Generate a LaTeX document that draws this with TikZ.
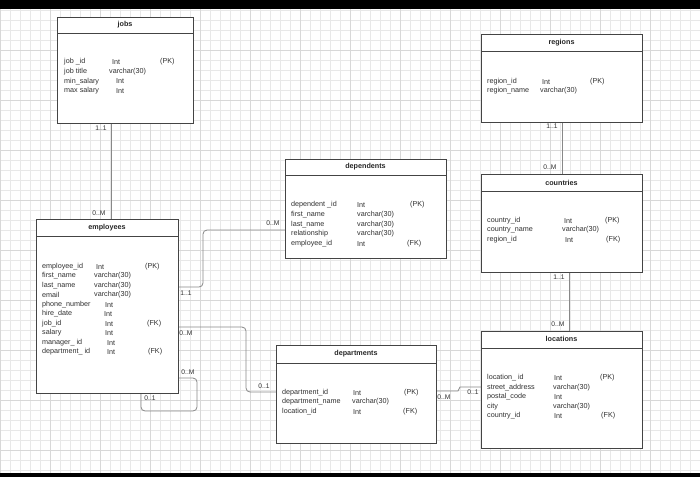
\documentclass[tikz,border=0pt]{standalone}
\usepackage{fontspec}
\setmainfont{Liberation Sans}
\usetikzlibrary{calc}
\definecolor{boxc}{HTML}{444444}
\definecolor{txtc}{HTML}{303030}
\definecolor{linec}{HTML}{888888}
\definecolor{gridc}{HTML}{E8E8E8}
\definecolor{gridd}{HTML}{D8D8D8}
\tikzset{
 tbl/.style={draw=boxc, line width=1.1pt, anchor=north west, inner sep=0pt, fill=white},
 hdr/.style={draw=boxc, line width=1pt},
 ttl/.style={font=\fontsize{7.2}{8}\selectfont\bfseries, text=black!85, inner sep=0pt},
 fld/.style={font=\fontsize{7.2}{8}\selectfont, text=txtc, anchor=west, inner sep=0pt},
 card/.style={font=\fontsize{6.7}{7}\selectfont, text=txtc, inner sep=0pt},
 conn/.style={draw=linec, line width=0.8pt, rounded corners=4pt},
}
\newcommand\fldrow[5]{%
 \node[fld] at (#1,#2) {#3};
 \node[fld] at (#4,#2) {#5};}
\begin{document}
\begin{tikzpicture}[x=1pt,y=-1pt]
\useasboundingbox (0,0) rectangle (700,477);
\fill[white] (0,0) rectangle (700,477);
\foreach \i in {0,10,...,700} \draw[gridc, line width=0.4pt] (\i,9) -- (\i,473);
\foreach \j in {10,20,...,470} \draw[gridc, line width=0.4pt] (0,\j) -- (700,\j);
\foreach \i in {0,50,...,700} \draw[gridd, line width=0.5pt] (\i,9) -- (\i,473);
\foreach \j in {50,100,...,450} \draw[gridd, line width=0.5pt] (0,\j) -- (700,\j);
\fill[black] (0,0) rectangle (700,9);
\fill[black] (0,473) rectangle (700,477);

% ---------- jobs
\node[tbl, minimum width=136pt, minimum height=106pt] (jobs) at (57,17) {};
\draw[hdr] (57,33) -- (193,33);
\node[ttl] (jobsT) at (125,25) {jobs};
\fldrow{64}{62}{job \_id}{112}{Int}
\node[fld] at (160,62) {(PK)};
\fldrow{64}{72}{job title}{109}{varchar(30)}
\fldrow{64}{81.5}{min\_salary}{116}{Int}
\fldrow{64}{91}{max salary}{116}{Int}

% ---------- regions
\node[tbl, minimum width=161pt, minimum height=88pt] (regions) at (481,34) {};
\draw[hdr] (481,51) -- (642,51);
\node[ttl] (regionsT) at (561.5,42.5) {regions};
\fldrow{487}{82}{region\_id}{542}{Int}
\node[fld] at (590,82) {(PK)};
\fldrow{487}{91}{region\_name}{540}{varchar(30)}

% ---------- dependents
\node[tbl, minimum width=161pt, minimum height=99pt] (dependents) at (285,159) {};
\draw[hdr] (285,175) -- (446,175);
\node[ttl] (dependentsT) at (365.5,166.5) {dependents};
\fldrow{291}{205}{dependent \_id}{357}{Int}
\node[fld] at (410,205) {(PK)};
\fldrow{291}{215}{first\_name}{357}{varchar(30)}
\fldrow{291}{225}{last\_name}{357}{varchar(30)}
\fldrow{291}{234}{relationship}{357}{varchar(30)}
\fldrow{291}{244}{employee\_id}{357}{Int}
\node[fld] at (407,244) {(FK)};

% ---------- countries
\node[tbl, minimum width=161pt, minimum height=98pt] (countries) at (481,174) {};
\draw[hdr] (481,191) -- (642,191);
\node[ttl] (countriesT) at (561.5,182.5) {countries};
\fldrow{487}{221}{country\_id}{564}{Int}
\node[fld] at (605,221) {(PK)};
\fldrow{487}{230}{country\_name}{562}{varchar(30)}
\fldrow{487}{240}{region\_id}{565}{Int}
\node[fld] at (606,240) {(FK)};

% ---------- employees
\node[tbl, minimum width=142pt, minimum height=174pt] (employees) at (36,219) {};
\draw[hdr] (36,236) -- (178,236);
\node[ttl] (employeesT) at (107,227.5) {employees};
\fldrow{42}{267}{employee\_id}{96}{Int}
\node[fld] at (145,267) {(PK)};
\fldrow{42}{276}{first\_name}{94}{varchar(30)}
\fldrow{42}{285.5}{last\_name}{94}{varchar(30)}
\fldrow{42}{295}{email}{94}{varchar(30)}
\fldrow{42}{305}{phone\_number}{105}{Int}
\fldrow{42}{314}{hire\_date}{104}{Int}
\fldrow{42}{324}{job\_id}{105}{Int}
\node[fld] at (147,324) {(FK)};
\fldrow{42}{333}{salary}{105}{Int}
\fldrow{42}{343}{manager\_ id}{107}{Int}
\fldrow{42}{352}{department\_ id}{107}{Int}
\node[fld] at (148,352) {(FK)};

% ---------- departments
\node[tbl, minimum width=160pt, minimum height=98pt] (departments) at (276,345) {};
\draw[hdr] (276,363) -- (436,363);
\node[ttl] (departmentsT) at (356,354) {departments};
\fldrow{282}{393}{department\_id}{353}{Int}
\node[fld] at (404,393) {(PK)};
\fldrow{282}{402}{department\_name}{352}{varchar(30)}
\fldrow{282}{412}{location\_id}{353}{Int}
\node[fld] at (403,412) {(FK)};

% ---------- locations
\node[tbl, minimum width=161pt, minimum height=117pt] (locations) at (481,331) {};
\draw[hdr] (481,348) -- (642,348);
\node[ttl] (locationsT) at (561.5,339) {locations};
\fldrow{487}{378}{location\_ id}{554}{Int}
\node[fld] at (600,378) {(PK)};
\fldrow{487}{388}{street\_address}{553}{varchar(30)}
\fldrow{487}{397}{postal\_code}{554}{Int}
\fldrow{487}{407}{city}{553}{varchar(30)}
\fldrow{487}{416}{country\_id}{554}{Int}
\node[fld] at (601,416) {(FK)};

% ---------- connectors
\coordinate (cj) at (111,0);
\draw[conn] (jobs.south -| cj) -- (employees.north -| cj);
\node[card] (l1) at (101,128) {1..1};
\node[card] (l2) at (99,213) {0..M};

\coordinate (cr) at (562,0);
\draw[conn] (regions.south -| cr) -- (countries.north -| cr);
\node[card] (l3) at (552,126) {1..1};
\node[card] (l4) at (550,167.5) {0..M};

\coordinate (cc) at (569,0);
\draw[conn] (countries.south -| cc) -- (locations.north -| cc);
\node[card] (l5) at (559,277) {1..1};
\node[card] (l6) at (558,324) {0..M};

\coordinate (ed1) at (0,287);
\coordinate (ed2) at (0,230);
\draw[conn] (employees.east |- ed1) -- (203,287) -- (203,230) -- (dependents.west |- ed2);
\node[card] (l7) at (186,293) {1..1};
\node[card] (l8) at (273,223) {0..M};

\coordinate (ep1) at (0,327);
\coordinate (ep2) at (0,392);
\draw[conn] (employees.east |- ep1) -- (246,327) -- (246,392) -- (departments.west |- ep2);
\node[card] (l9) at (186,333) {0..M};
\node[card] (l10) at (264,386) {0..1};

\coordinate (es1) at (0,378);
\coordinate (es2) at (141,0);
\draw[conn] (employees.east |- es1) -- (197,378) -- (197,411) -- (141,411) -- (employees.south -| es2);
\node[card] (l11) at (188,372) {0..M};
\node[card] (l12) at (150,398) {0..1};

\coordinate (dl1) at (0,391);
\coordinate (dl2) at (0,387);
\draw[draw=linec, line width=0.8pt] (departments.east |- dl1) -- (458,391) -- (460,387) -- (locations.west |- dl2);
\node[card] (l13) at (444,397) {0..M};
\node[card] (l14) at (473,392) {0..1};
\end{tikzpicture}
\end{document}
